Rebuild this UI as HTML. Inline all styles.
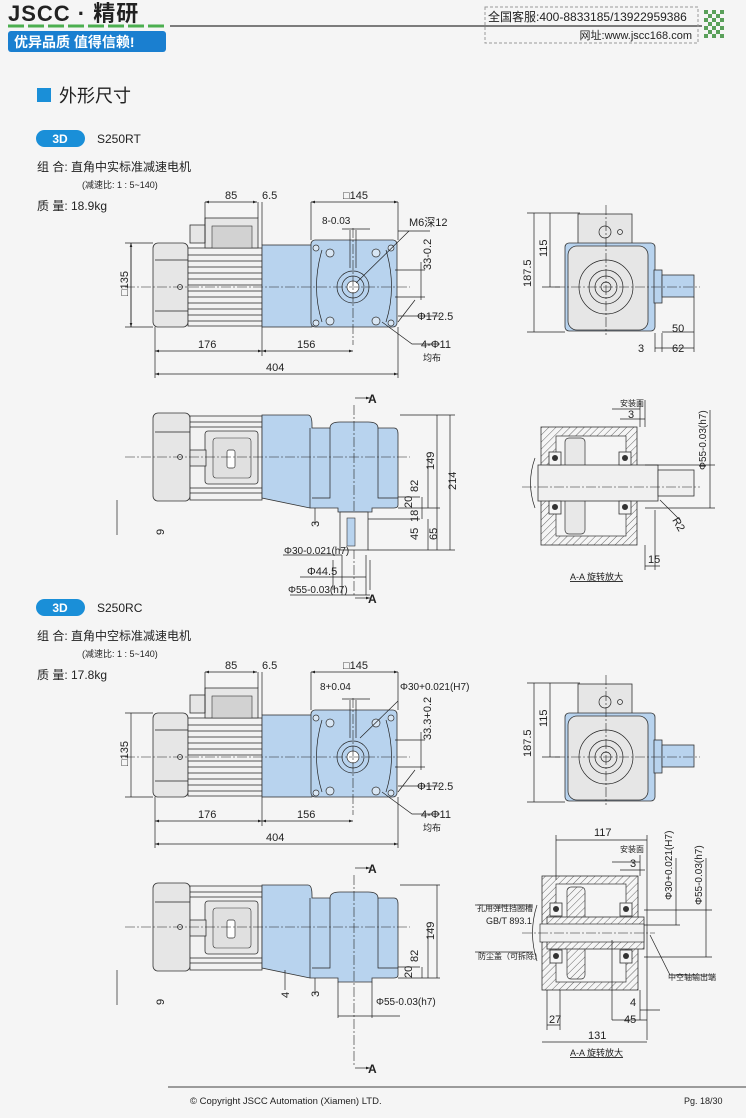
<!DOCTYPE html>
<html><head><meta charset="utf-8"><style>
html,body{margin:0;padding:0;background:#f5f5f5}
svg{display:block}
text{font-family:"Liberation Sans","Noto Sans CJK SC",sans-serif;fill:#222}
.n{font-family:"Liberation Sans Narrow","Liberation Sans","Noto Sans CJK SC",sans-serif;font-size:11px}
.ln{stroke:#222;stroke-width:.7;fill:none}
.cl{stroke:#222;stroke-width:.6;fill:none;stroke-dasharray:10 2 2 2}
.bl{fill:#b8d3ee;stroke:#333;stroke-width:.8}
.gy{fill:#e6e6e6;stroke:#333;stroke-width:.8}
.wt{fill:#f2f2f2;stroke:#333;stroke-width:.8}
</style></head><body>
<svg width="746" height="1118" viewBox="0 0 746 1118" xmlns="http://www.w3.org/2000/svg">
<defs>
<pattern id="h" width="5" height="5" patternUnits="userSpaceOnUse" patternTransform="rotate(45)"><rect width="5" height="5" fill="#f5f5f5"/><line x1="0" y1="0" x2="0" y2="5" stroke="#444" stroke-width="0.8"/></pattern>
<marker id="a" viewBox="0 0 6 6" refX="6" refY="3" markerWidth="6" markerHeight="6" orient="auto-start-reverse"><path d="M0,1 L6,3 L0,5z" fill="#222"/></marker>
<g id="fv">
 <rect x="153" y="243" width="35" height="84" rx="5" class="gy"/>
 <line x1="155" y1="260" x2="188" y2="260" class="ln"/><line x1="155" y1="311" x2="188" y2="311" class="ln"/>
 <rect x="188" y="248" width="74" height="78" class="wt"/>
 <g class="ln"><path d="M188 255H262M188 261H262M188 267H262M188 273H262M188 279H262M188 285H262M188 291H262M188 297H262M188 303H262M188 309H262M188 315H262M188 321H262"/></g>
 <rect x="205" y="218" width="53" height="30" class="gy"/>
 <rect x="212" y="226" width="40" height="22" fill="#d2d2d2" stroke="#333" stroke-width=".6"/>
 <rect x="190" y="225" width="15" height="18" class="gy"/>
 <rect x="262" y="245" width="50" height="82" class="bl"/>
 <rect x="311" y="240" width="86" height="87" rx="4" class="bl"/>
 <path d="M322 250 Q311 287 322 322 M386 250 Q397 287 386 322" class="ln"/>
 <circle cx="353" cy="287" r="16" class="ln"/><circle cx="353" cy="287" r="11" class="ln"/><circle cx="353" cy="287" r="6" fill="#fff" stroke="#333" stroke-width=".7"/>
 <g fill="#d8e6f4" stroke="#333" stroke-width=".7"><circle cx="330" cy="253" r="4"/><circle cx="376" cy="253" r="4"/><circle cx="330" cy="321" r="4"/><circle cx="376" cy="321" r="4"/><circle cx="316" cy="248" r="3"/><circle cx="391" cy="248" r="3"/><circle cx="316" cy="323" r="3"/><circle cx="391" cy="323" r="3"/></g>
 <path d="M125 287H410" class="cl"/><path d="M353 228V345" class="cl"/>
 <circle cx="180" cy="287" r="2.5" class="ln"/>
</g>
<g id="sv">
 <rect x="578" y="214" width="54" height="30" class="gy"/>
 <circle cx="605" cy="232" r="6" class="ln"/><circle cx="620" cy="232" r="2.5" class="ln"/>
 <rect x="565" y="243" width="90" height="88" rx="4" class="bl"/>
 <rect x="568" y="246" width="80" height="84" rx="9" class="gy"/>
 <circle cx="606" cy="287" r="27" class="ln"/>
 <circle cx="606" cy="287" r="17" class="ln"/><circle cx="606" cy="287" r="11" class="ln"/><circle cx="606" cy="287" r="5" class="ln"/>
 <rect x="654" y="270" width="8" height="33" class="bl"/>
 <rect x="662" y="275" width="32" height="22" class="bl"/>
 <path d="M555 287H700" class="cl"/><path d="M606 205V335" class="cl"/>
</g>
<g id="tv">
 <rect x="153" y="413" width="37" height="88" rx="5" class="gy"/>
 <line x1="155" y1="432" x2="190" y2="432" class="ln"/>
 <rect x="190" y="416" width="72" height="84" class="wt"/>
 <g class="ln"><path d="M190 422H262M190 427H262M190 488H262M190 493H262"/></g>
 <rect x="205" y="431" width="53" height="53" rx="3" class="gy"/>
 <rect x="213" y="438" width="38" height="40" rx="3" fill="#e0e0e0" stroke="#333" stroke-width=".6"/>
 <rect x="227" y="450" width="8" height="18" rx="2" fill="#fff" stroke="#333" stroke-width=".7"/>
 <rect x="190" y="450" width="16" height="16" class="gy"/>
 <path d="M262 415H308Q312 415 312 425V428H330Q330 422 340 422H368Q378 422 378 428H394Q398 428 398 434V505Q398 508 394 508H372V512H338V508H310L262 498Z" class="bl"/>
 <path d="M310 428V508M330 428V498H312M378 428V498H398" class="ln"/>
 <circle cx="180" cy="457" r="2.5" class="ln"/>
 <path d="M125 457H410" class="cl"/><path d="M354 405V595" class="cl"/>
</g>
</defs>

<!-- header -->
<text x="8" y="21" style="font-size:22px;font-weight:bold;letter-spacing:1px" fill="#222">JSCC · 精研</text>
<line x1="8" y1="26" x2="164" y2="26" stroke="#4caf50" stroke-width="3" stroke-dasharray="16 4"/>
<rect x="8" y="31" width="158" height="21" rx="3" fill="#1a7fd0"/>
<text x="14" y="47" style="font-size:14px;font-weight:bold;fill:#fff">优异品质 值得信赖!</text>
<line x1="170" y1="26" x2="702" y2="26" stroke="#555" stroke-width="1.5"/>
<rect x="485" y="7" width="213" height="36" fill="none" stroke="#999" stroke-dasharray="3 2"/>
<text x="488" y="21" style="font-size:12px">全国客服:400-8833185/13922959386</text>
<text x="692" y="39" text-anchor="end" style="font-size:11px">网址:www.jscc168.com</text>
<g fill="#5aa05a">
<rect x="704" y="10" width="4" height="4"/><rect x="712" y="10" width="4" height="4"/><rect x="720" y="10" width="4" height="4"/>
<rect x="708" y="14" width="4" height="4"/><rect x="716" y="14" width="4" height="4"/><rect x="704" y="18" width="4" height="4"/><rect x="712" y="18" width="4" height="4"/><rect x="720" y="18" width="4" height="4"/>
<rect x="708" y="22" width="4" height="4"/><rect x="716" y="22" width="4" height="4"/><rect x="704" y="26" width="4" height="4"/><rect x="712" y="26" width="4" height="4"/><rect x="720" y="26" width="4" height="4"/>
<rect x="708" y="30" width="4" height="4"/><rect x="716" y="30" width="4" height="4"/><rect x="704" y="34" width="4" height="4"/><rect x="712" y="34" width="4" height="4"/><rect x="720" y="34" width="4" height="4"/></g>

<rect x="37" y="88" width="14" height="14" fill="#1a8fd8"/>
<text x="59" y="102" style="font-size:18px">外形尺寸</text>

<!-- section 1 -->
<rect x="36" y="130" width="49" height="17" rx="8.5" fill="#1a8fd8"/>
<text x="60" y="143" text-anchor="middle" style="font-size:12px;font-weight:bold;fill:#fff">3D</text>
<text x="97" y="143" style="font-size:12px">S250RT</text>
<text x="37" y="171" style="font-size:12px">组 合:  直角中实标准减速电机</text>
<text x="82" y="188" style="font-size:9px">(减速比: 1 : 5~140)</text>
<text x="37" y="210" style="font-size:12px">质 量:  18.9kg</text>

<use href="#fv"/>
<use href="#sv"/>
<use href="#tv"/>
<g class="ln">
<path d="M205 202V243M258 202V218M262 202V245M311 202V240M398 202V240M131 243V327M125 243H153M125 327H153M155 327V378M262 327V356M398 327V378"/>
<path d="M205 202H257" marker-start="url(#a)" marker-end="url(#a)"/>
<path d="M311 202H398" marker-start="url(#a)" marker-end="url(#a)"/>
<path d="M131 243V327" marker-start="url(#a)" marker-end="url(#a)"/>
<path d="M155 351H262" marker-start="url(#a)" marker-end="url(#a)"/>
<path d="M262 351H353" marker-start="url(#a)" marker-end="url(#a)"/>
<path d="M155 374H398" marker-start="url(#a)" marker-end="url(#a)"/>
<path d="M350 230V268M356 230V268M342 229H370M409 231L356 283M398 231H430M395 270H425M395 297H425M421 262V300M398 322L415 300M398 316H440M382 322L412 344H440"/>
<path d="M534 213V332M550 213V287M527 213H580M527 332H565M542 287H560M655 333V352M662 333V352M694 297V352M662 332H694M655 348H694"/>
</g>
<text class="n" x="225" y="199">85</text><text class="n" x="262" y="199">6.5</text>
<text class="n" x="343" y="199">□145</text><text class="n" x="322" y="224" style="font-size:10px">8-0.03</text>
<text class="n" x="409" y="226">M6深12</text>
<text class="n" x="417" y="320">Φ172.5</text><text class="n" x="421" y="348">4-Φ11</text><text x="423" y="361" style="font-size:9px">均布</text>
<text class="n" x="198" y="348">176</text><text class="n" x="297" y="348">156</text><text class="n" x="266" y="371">404</text>
<text class="n" transform="translate(128,296) rotate(-90)">□135</text>
<text class="n" transform="translate(431,270) rotate(-90)">33-0.2</text>
<text class="n" transform="translate(531,287) rotate(-90)">187.5</text>
<text class="n" transform="translate(547,257) rotate(-90)">115</text>
<text class="n" x="672" y="332">50</text><text class="n" x="672" y="352">62</text><text class="n" x="638" y="352">3</text>

<rect x="340" y="512" width="28" height="38" class="wt"/>
<rect x="347" y="518" width="8" height="28" fill="#b8d3ee" stroke="#333" stroke-width=".6"/>
<g class="ln">
<path d="M355 398H370" marker-end="url(#a)"/><path d="M355 598H370" marker-end="url(#a)"/>
<path d="M400 415H455M368 550H455M398 508H440M398 497H420M368 519H420M428 457V508M450 415V550M437 415V550M422 497V519M428 519V550M342 555V595M366 555V595M333 560V590M370 560V590"/>
<path d="M283 555H342M300 577H366M290 595H370"/>
<path d="M117 500V535M315 508V525"/>
</g>
<text class="n" x="368" y="403" style="font-weight:bold;font-size:12px">A</text>
<text class="n" x="368" y="603" style="font-weight:bold;font-size:12px">A</text>
<text class="n" transform="translate(434,470) rotate(-90)">149</text>
<text class="n" transform="translate(456,490) rotate(-90)">214</text>
<text class="n" transform="translate(418,492) rotate(-90)">82</text>
<text class="n" transform="translate(412,508) rotate(-90)">20</text>
<text class="n" transform="translate(418,522) rotate(-90)">18</text>
<text class="n" transform="translate(418,540) rotate(-90)">45</text>
<text class="n" transform="translate(437,540) rotate(-90)">65</text>
<text class="n" transform="translate(164,535) rotate(-90)">9</text>
<text class="n" transform="translate(319,527) rotate(-90)">3</text>
<text class="n" x="284" y="554" style="font-size:10px">Φ30-0.021(h7)</text>
<text class="n" x="307" y="575">Φ44.5</text>
<text class="n" x="288" y="593" style="font-size:10px">Φ55-0.03(h7)</text>

<rect x="541" y="427" width="96" height="118" fill="url(#h)" stroke="#333" stroke-width=".8"/>
<rect x="556" y="436" width="70" height="100" fill="#f5f5f5" stroke="#333" stroke-width=".7"/>
<rect x="565" y="438" width="20" height="96" rx="4" fill="#e8e8e8" stroke="#333" stroke-width=".7"/>
<rect x="538" y="465" width="120" height="36" fill="#f0f0f0" stroke="#333" stroke-width=".8"/>
<rect x="658" y="470" width="36" height="26" fill="#f0f0f0" stroke="#333" stroke-width=".8"/>
<path d="M535 458Q526 483 535 508" class="ln" stroke-width="2"/>
<g fill="#f5f5f5" stroke="#333" stroke-width=".8"><rect x="549" y="452" width="12" height="13"/><rect x="549" y="501" width="12" height="13"/><rect x="619" y="452" width="12" height="13"/><rect x="619" y="501" width="12" height="13"/></g>
<g fill="#333"><circle cx="555" cy="458" r="3"/><circle cx="555" cy="507" r="3"/><circle cx="625" cy="458" r="3"/><circle cx="625" cy="507" r="3"/></g>
<g class="ln"><path d="M522 487H700" class="cl"/>
<path d="M640 400V427M645 400V427M612 409H640M620 419H645M645 465H715M645 508H715M710 410V508M645 545V570M655 510V570M645 566H660M660 500L680 520"/></g>
<text x="620" y="406" style="font-size:8px">安装面</text><text class="n" x="628" y="418">3</text>
<text class="n" transform="translate(706,470) rotate(-90)" style="font-size:10px">Φ55-0.03(h7)</text>
<text class="n" x="648" y="563">15</text>
<text class="n" transform="translate(672,520) rotate(60)">R2</text>
<text x="570" y="580" style="font-size:9px;text-decoration:underline">A-A 旋转放大</text>

<!-- section 2 -->
<rect x="36" y="599" width="49" height="17" rx="8.5" fill="#1a8fd8"/>
<text x="60" y="612" text-anchor="middle" style="font-size:12px;font-weight:bold;fill:#fff">3D</text>
<text x="97" y="612" style="font-size:12px">S250RC</text>
<text x="37" y="640" style="font-size:12px">组 合:  直角中空标准减速电机</text>
<text x="82" y="657" style="font-size:9px">(减速比: 1 : 5~140)</text>
<text x="37" y="679" style="font-size:12px">质 量:  17.8kg</text>

<g transform="translate(0,470)">
<use href="#fv"/>
<use href="#sv"/>
<use href="#tv"/>
<g class="ln">
<path d="M205 202V243M258 202V218M262 202V245M311 202V240M398 202V240M131 243V327M125 243H153M125 327H153M155 327V378M262 327V356M398 327V378"/>
<path d="M205 202H257" marker-start="url(#a)" marker-end="url(#a)"/>
<path d="M311 202H398" marker-start="url(#a)" marker-end="url(#a)"/>
<path d="M155 351H262" marker-start="url(#a)" marker-end="url(#a)"/>
<path d="M262 351H353" marker-start="url(#a)" marker-end="url(#a)"/>
<path d="M155 374H398" marker-start="url(#a)" marker-end="url(#a)"/>
<path d="M350 230V268M356 230V268M342 229H370M398 231L360 268M395 270H425M395 297H425M421 262V300M398 322L415 300M398 316H440M382 322L412 344H440"/>
<path d="M534 213V332M550 213V287M527 213H580M527 332H565M542 287H560"/>
<path d="M355 398H370" marker-end="url(#a)"/><path d="M355 598H370" marker-end="url(#a)"/>
<path d="M400 415H440M398 508H440M398 497H420M428 457V508M437 415V508M422 497V508M338 512V548M372 512V548M338 546H400"/>
<path d="M117 500V535M285 500V520M315 508V525"/>
</g>
</g>
<text class="n" x="225" y="669">85</text><text class="n" x="262" y="669">6.5</text>
<text class="n" x="343" y="669">□145</text><text class="n" x="320" y="690" style="font-size:10px">8+0.04</text>
<text class="n" x="400" y="690" style="font-size:10px">Φ30+0.021(H7)</text>
<text class="n" x="417" y="790">Φ172.5</text><text class="n" x="421" y="818">4-Φ11</text><text x="423" y="831" style="font-size:9px">均布</text>
<text class="n" x="198" y="818">176</text><text class="n" x="297" y="818">156</text><text class="n" x="266" y="841">404</text>
<text class="n" transform="translate(128,766) rotate(-90)">□135</text>
<text class="n" transform="translate(431,740) rotate(-90)">33.3+0.2</text>
<text class="n" transform="translate(531,757) rotate(-90)">187.5</text>
<text class="n" transform="translate(547,727) rotate(-90)">115</text>
<text class="n" x="368" y="873" style="font-weight:bold;font-size:12px">A</text>
<text class="n" x="368" y="1073" style="font-weight:bold;font-size:12px">A</text>
<text class="n" transform="translate(434,940) rotate(-90)">149</text>
<text class="n" transform="translate(418,962) rotate(-90)">82</text>
<text class="n" transform="translate(412,978) rotate(-90)">20</text>
<text class="n" transform="translate(164,1005) rotate(-90)">9</text>
<text class="n" transform="translate(289,998) rotate(-90)">4</text>
<text class="n" transform="translate(319,997) rotate(-90)">3</text>
<text class="n" x="376" y="1005" style="font-size:10px">Φ55-0.03(h7)</text>

<rect x="542" y="876" width="96" height="114" fill="url(#h)" stroke="#333" stroke-width=".8"/>
<rect x="556" y="884" width="70" height="98" fill="#f5f5f5" stroke="#333" stroke-width=".7"/>
<rect x="567" y="887" width="18" height="92" rx="4" fill="url(#h)" stroke="#333" stroke-width=".7"/>
<rect x="547" y="917" width="97" height="32" fill="url(#h)" stroke="#333" stroke-width=".8"/>
<rect x="540" y="924" width="104" height="18" fill="#f0f0f0" stroke="#333" stroke-width=".7"/>
<path d="M537 905Q528 933 537 961" class="ln" stroke-width="2"/>
<g fill="#f5f5f5" stroke="#333" stroke-width=".8"><rect x="550" y="903" width="12" height="13"/><rect x="550" y="950" width="12" height="13"/><rect x="620" y="903" width="12" height="13"/><rect x="620" y="950" width="12" height="13"/></g>
<g fill="#333"><circle cx="556" cy="909" r="3"/><circle cx="556" cy="956" r="3"/><circle cx="626" cy="909" r="3"/><circle cx="626" cy="956" r="3"/></g>
<g class="ln"><path d="M522 933H655" class="cl"/>
<path d="M556 835V880M647 835V1040M556 840H647M640 855V876M612 862H640M620 870H645M644 925H680M644 910H712M644 957H712M676 858V925M706 858V957M547 990V1030M560 990V1030M547 1025H560M612 940V1020M640 990V1020M640 1010H660M612 1020H647M542 1042H647M533 905H475M533 952H475M650 935L670 975H715"/></g>
<text class="n" x="594" y="836">117</text>
<text x="620" y="852" style="font-size:8px">安装面</text><text class="n" x="630" y="867">3</text>
<text class="n" transform="translate(672,900) rotate(-90)" style="font-size:10px">Φ30+0.021(H7)</text>
<text class="n" transform="translate(702,905) rotate(-90)" style="font-size:10px">Φ55-0.03(h7)</text>
<text x="477" y="911" style="font-size:8px">孔用弹性挡圈槽</text>
<text class="n" x="486" y="924" style="font-size:9px">GB/T 893.1</text>
<text x="478" y="959" style="font-size:8px">防尘盖（可拆除）</text>
<text x="668" y="980" style="font-size:8px">中空轴输出端</text>
<text class="n" x="630" y="1006">4</text><text class="n" x="624" y="1023">45</text>
<text class="n" x="549" y="1023">27</text><text class="n" x="588" y="1039">131</text>
<text x="570" y="1056" style="font-size:9px;text-decoration:underline">A-A 旋转放大</text>

<line x1="168" y1="1087" x2="746" y2="1087" stroke="#666" stroke-width="1.2"/>
<text x="190" y="1104" style="font-size:9.5px">© Copyright JSCC Automation (Xiamen) LTD.</text>
<text x="684" y="1104" style="font-size:9px">Pg. 18/30</text>
</svg>
</body></html>
